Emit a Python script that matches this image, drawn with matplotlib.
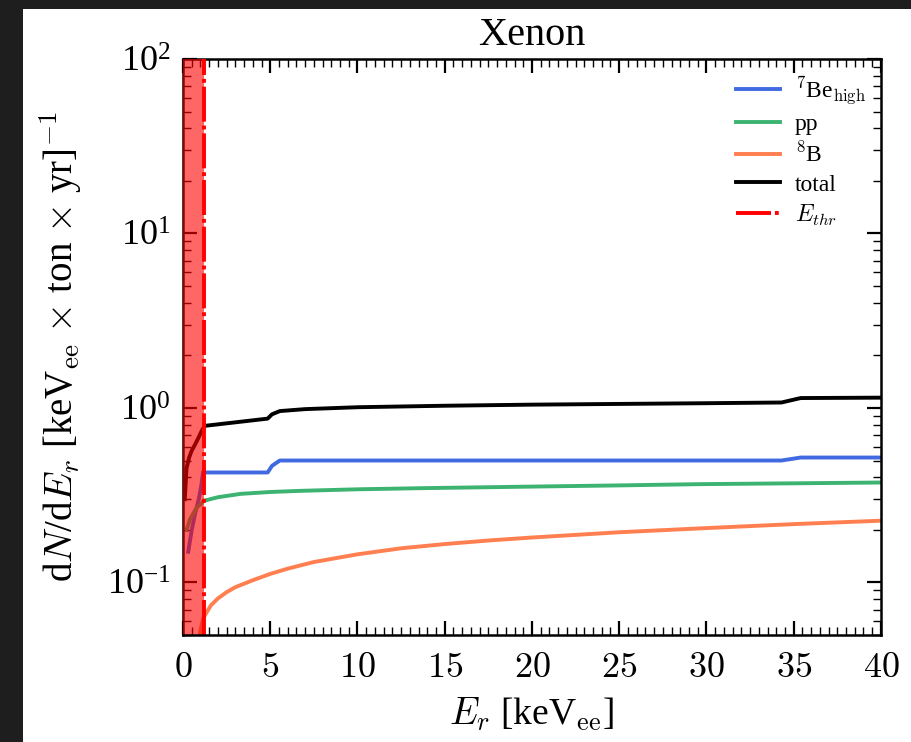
import numpy as np
import matplotlib
matplotlib.use('Agg')
import matplotlib.pyplot as plt
from matplotlib.patches import Rectangle
from matplotlib.ticker import MultipleLocator, LogLocator, NullFormatter, FuncFormatter

plt.rcParams['font.family'] = ['Liberation Serif', 'DejaVu Serif']
plt.rcParams['mathtext.fontset'] = 'cm'

# recoil energy grids [keV_ee] and rates
E_be = [0.3, 0.5, 0.7, 0.9, 1.05, 1.15, 1.3, 4.85, 5.1, 5.55, 34.3, 35.4, 40]
be_high = [0.15, 0.2, 0.25, 0.3, 0.36, 0.43, 0.427, 0.427, 0.466, 0.50, 0.50, 0.52, 0.52]

E_pp = [0.2, 0.4, 0.6, 0.8, 1.0, 1.2, 2, 3.3, 5, 6.7, 10, 13.6, 20.5, 25, 29.6, 35, 40]
pp = [0.2, 0.23, 0.25, 0.27, 0.28, 0.294, 0.308, 0.322, 0.33, 0.335, 0.342, 0.347, 0.355, 0.36, 0.366, 0.37, 0.374]

E_b8 = [0.9, 1.0, 1.15, 1.3, 1.6, 2, 2.5, 3, 4, 5, 6, 7.5, 10, 12.5, 15, 17.5, 20, 25, 30, 35, 40]
b8 = [0.045, 0.053, 0.062, 0.066, 0.074, 0.081, 0.088, 0.094, 0.103, 0.112, 0.12, 0.131,
      0.145, 0.157, 0.166, 0.174, 0.181, 0.194, 0.205, 0.216, 0.226]

E_tot = [0.1, 0.2, 0.35, 0.5, 0.7, 0.9, 1.1, 1.25, 4.85, 5.1, 5.55, 7, 10, 15, 20, 25, 30, 34.3, 35.4, 40]
total = [0.3, 0.45, 0.52, 0.57, 0.62, 0.68, 0.75, 0.79, 0.869, 0.92, 0.96, 0.985, 1.01, 1.03,
         1.045, 1.055, 1.065, 1.075, 1.14, 1.146]

E_thr = 1.2

fig = plt.figure(figsize=(9.11, 7.42), dpi=100)
fig.patch.set_facecolor('#1e1e1e')
fig.add_artist(Rectangle((23 / 911, 0), 1 - 23 / 911, 1 - 9 / 742,
                         transform=fig.transFigure, facecolor='white',
                         edgecolor='none', zorder=-10))

ax = fig.add_axes([0.2009, 0.1442, 0.7661, 0.7763])

lw = 2.8
ax.plot(E_be, be_high, color='royalblue', lw=lw, label=r'$^7$Be$_{\rm high}$', zorder=2)
ax.plot(E_pp, pp, color='mediumseagreen', lw=lw, label='pp', zorder=2)
ax.plot(E_b8, b8, color='coral', lw=lw, label=r'$^8$B', zorder=2)
ax.plot(E_tot, total, color='black', lw=lw, label='total', zorder=2)

# threshold region
ax.axvspan(0, E_thr, color='red', alpha=0.6, lw=0, zorder=3)
ax.axvline(E_thr, color='red', ls=(0, (9, 1, 1, 1)), lw=lw, label=r'$E_{thr}$', zorder=3)

ax.set_yscale('log')
ax.set_xlim(0, 40)
ax.set_ylim(0.05, 100)

ax.xaxis.set_major_locator(MultipleLocator(5))
ax.xaxis.set_minor_locator(MultipleLocator(0.5))
ax.xaxis.set_major_formatter(FuncFormatter(lambda v, p: r'$%d$' % v))
ax.yaxis.set_major_locator(LogLocator(base=10, numticks=10))
ax.yaxis.set_minor_locator(LogLocator(base=10, subs=np.arange(2, 10), numticks=20))
ax.yaxis.set_minor_formatter(NullFormatter())

ax.tick_params(which='both', direction='in', top=True, right=True)
ax.tick_params(which='major', length=10, width=1.6, labelsize=26)
ax.tick_params(axis='x', which='major', pad=12)
ax.tick_params(axis='y', which='major', pad=9)
ax.tick_params(which='minor', length=5.5, width=1.0)
for s in ax.spines.values():
    s.set_linewidth(1.8)
ax.spines['bottom'].set_zorder(4)

ax.set_xlabel(r'$E_r$ [keV$_{\rm ee}$]', fontsize=27, labelpad=8)
ax.set_ylabel(r'd$N$/d$E_r$ [keV$_{\rm ee}$ $\times$ ton $\times$ yr]$^{-1}$', fontsize=28, labelpad=16)
ax.set_title('Xenon', fontsize=29, pad=10)

ax.legend(loc='upper right', frameon=False, fontsize=17, handlelength=1.9,
          handletextpad=0.6, labelspacing=0.3, borderaxespad=0.25)

fig.savefig('out.png', dpi=100)
